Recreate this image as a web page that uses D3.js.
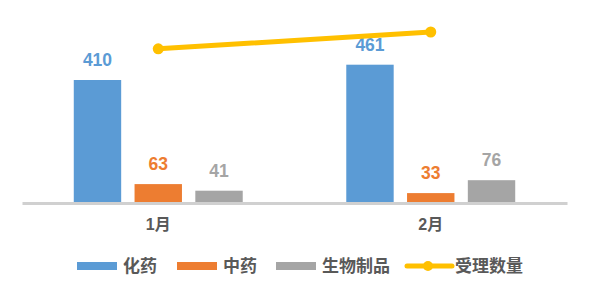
<!DOCTYPE html>
<html>
<head>
<meta charset="utf-8">
<script src="https://cdn.jsdelivr.net/npm/d3@7"></script>
<style>
  body { margin: 0; background: #fff; }
  text { font-family: "Liberation Sans", "Noto Sans CJK SC", sans-serif; font-weight: bold; }
</style>
</head>
<body>
<div id="chart"></div>
<script>
// data
const months = ['1月', '2月'];
const seriesNames = ['化药', '中药', '生物制品'];
const huayao = [410, 461];
const zhongyao = [63, 33];
const shengwu = [41, 76];
const shouli = [514, 570];
const lineName = '受理数量';

const colors = ['#5B9BD5', '#ED7D31', '#A5A5A5'];
const lineColor = '#FFC000';

const width = 591;
const height = 295;
const margin = { top: 23, right: 24, bottom: 92, left: 22 };
const chartWidth = width - margin.left - margin.right;
const chartHeight = height - margin.top - margin.bottom;

const svg = d3.select('#chart').append('svg')
    .attr('width', width)
    .attr('height', height);

const g = svg.append('g')
    .attr('transform', `translate(${margin.left}, ${margin.top})`);

const xScale = d3.scaleBand()
    .domain(months)
    .range([0, chartWidth]);

const xInner = d3.scaleBand()
    .domain(seriesNames)
    .range([0, xScale.bandwidth() * 0.62])
    .paddingInner(0.22);

const yScale = d3.scaleLinear()
    .domain([0, 600])
    .range([chartHeight, 0]);

const seriesValues = [huayao, zhongyao, shengwu];
const barData = [];
months.forEach((m, i) => {
    seriesNames.forEach((s, j) => {
        barData.push({ month: m, series: s, value: seriesValues[j][i], color: colors[j] });
    });
});

const groupOffset = xScale.bandwidth() * 0.19;

g.selectAll('rect.bar')
    .data(barData)
    .enter()
    .append('rect')
    .attr('class', 'bar')
    .attr('x', d => xScale(d.month) + groupOffset + xInner(d.series))
    .attr('y', d => yScale(d.value))
    .attr('width', xInner.bandwidth())
    .attr('height', d => chartHeight - yScale(d.value))
    .attr('fill', d => d.color);

// value labels
g.selectAll('text.val')
    .data(barData)
    .enter()
    .append('text')
    .attr('class', 'val')
    .attr('x', d => xScale(d.month) + groupOffset + xInner(d.series) + xInner.bandwidth() / 2)
    .attr('y', d => yScale(d.value) - 14)
    .attr('text-anchor', 'middle')
    .style('font-size', '17.5px')
    .attr('fill', d => d.color)
    .text(d => d.value);

// x axis
const xAxis_g = g.append('g')
    .attr('transform', `translate(0, ${chartHeight})`)
    .call(d3.axisBottom(xScale).tickSize(0).tickPadding(14));
xAxis_g.select('.domain')
    .attr('stroke', '#D0D0D0')
    .attr('stroke-width', 3);
xAxis_g.selectAll('text')
    .style('font-size', '16px')
    .attr('dy', '0.8em')
    .attr('fill', '#595959');

// line
const lineData = months.map((m, i) => ({ month: m, value: shouli[i] }));
const line = d3.line()
    .x(d => xScale(d.month) + xScale.bandwidth() / 2)
    .y(d => yScale(d.value));

g.append('path')
    .datum(lineData)
    .attr('d', line)
    .attr('fill', 'none')
    .attr('stroke', lineColor)
    .attr('stroke-width', 5)
    .attr('stroke-linecap', 'round');

g.selectAll('circle.pt')
    .data(lineData)
    .enter()
    .append('circle')
    .attr('class', 'pt')
    .attr('cx', d => xScale(d.month) + xScale.bandwidth() / 2)
    .attr('cy', d => yScale(d.value))
    .attr('r', 5.5)
    .attr('fill', lineColor);

// legend
const legendItems = [
    { name: seriesNames[0], color: colors[0], x: 77, type: 'bar' },
    { name: seriesNames[1], color: colors[1], x: 177, type: 'bar' },
    { name: seriesNames[2], color: colors[2], x: 276, type: 'bar' },
    { name: lineName, color: lineColor, x: 407, type: 'line' }
];
const legend = svg.append('g').attr('transform', 'translate(0, 266)');
legendItems.forEach(item => {
    const lg = legend.append('g').attr('transform', `translate(${item.x}, 0)`);
    if (item.type === 'bar') {
        lg.append('rect')
            .attr('x', 0).attr('y', -4)
            .attr('width', 40).attr('height', 8)
            .attr('fill', item.color);
        lg.append('text')
            .attr('x', 46).attr('y', 6)
            .style('font-size', '17px')
            .attr('fill', '#595959')
            .text(item.name);
    } else {
        lg.append('line')
            .attr('x1', 0).attr('x2', 45)
            .attr('y1', 0).attr('y2', 0)
            .attr('stroke', item.color)
            .attr('stroke-width', 5)
            .attr('stroke-linecap', 'round');
        lg.append('circle')
            .attr('cx', 21).attr('cy', 0).attr('r', 5)
            .attr('fill', item.color);
        lg.append('text')
            .attr('x', 48).attr('y', 6)
            .style('font-size', '17px')
            .attr('fill', '#595959')
            .text(item.name);
    }
});
</script>
</body>
</html>
